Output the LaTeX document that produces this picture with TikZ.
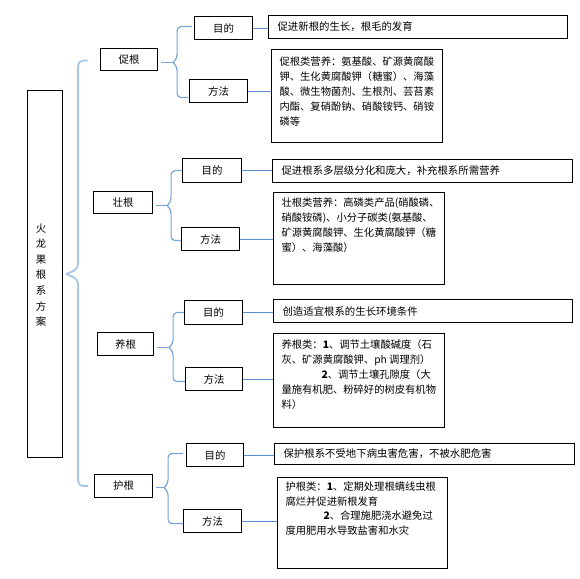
\documentclass[tikz,border=0pt]{standalone}
\usepackage{fontspec}
\setmainfont{Noto Sans CJK SC}
\usetikzlibrary{calc}
\definecolor{linkblue}{HTML}{5B8ED6}
\definecolor{subblue}{HTML}{78A5DA}
\definecolor{mainblue}{HTML}{A6C6EA}
\tikzset{
  box/.style={draw=black, line width=1.1pt, inner sep=0pt, anchor=north west,
    font=\fontsize{10.4}{15}\selectfont},
  lone/.style={box, align=left, inner xsep=9pt},
  para/.style={box, inner xsep=8pt, inner ysep=0pt},
  link/.style={draw=linkblue, line width=1pt},
  subbr/.style={draw=subblue, line width=1.2pt, rounded corners=4pt},
  mainbr/.style={draw=mainblue, line width=1.8pt, rounded corners=5pt},
}
\newcommand\subbrace[9]{%
  \coordinate (sc) at ($(#1.east)+(3,#4)$);
  \coordinate (sb) at ($(#1.east)+(#5,#4)$);
  \coordinate (st) at ($(#2.west)+(#6,#7)$);
  \coordinate (sbt) at ($(#3.west)+(#8,#9)$);
  \draw[subbr] (st) -- (sb |- st) -- ($(sb)+(0,-4)$) -- ($(sb)+(-4,0)$);
  \draw[subbr] (sbt) -- (sb |- sbt) -- ($(sb)+(0,4)$) -- ($(sb)+(-4,0)$);
  \draw[subbr] (sc) -- ($(sb)+(-4,0)$);
}
\newcommand\ptext[3]{\begin{minipage}[c][#1pt][t]{#2pt}\fontsize{10.3}{15}\selectfont\vspace*{#3pt}}
\begin{document}
\begin{tikzpicture}[x=1pt,y=-1pt]
\useasboundingbox (0,0) rectangle (580,578);

% root
\node[box, minimum width=35pt, minimum height=367pt] (root) at (27,90) {};
\node[align=center, inner sep=0pt, font=\fontsize{10.4}{15.6}\selectfont] (roott) at (41,275) {火\\龙\\果\\根\\系\\方\\案};

% level 1
\node[box, minimum width=57pt, minimum height=22pt] (cg) at (100,48) {促根};
\node[box, minimum width=59pt, minimum height=22pt] (zg) at (93,191) {壮根};
\node[box, minimum width=56pt, minimum height=23pt] (yg) at (97,332) {养根};
\node[box, minimum width=58pt, minimum height=23pt] (hg) at (94,474) {护根};

% level 2
\node[box, minimum width=58pt, minimum height=23pt] (m1) at (194,16) {目的};
\node[box, minimum width=58pt, minimum height=23pt] (f1) at (189,79) {方法};
\node[box, minimum width=59pt, minimum height=24pt] (m2) at (182,158) {目的};
\node[box, minimum width=58pt, minimum height=23pt] (f2) at (181,227) {方法};
\node[box, minimum width=58pt, minimum height=24pt] (m3) at (184,300) {目的};
\node[box, minimum width=57pt, minimum height=23pt] (f3) at (185,367) {方法};
\node[box, minimum width=57pt, minimum height=23pt] (m4) at (186,443) {目的};
\node[box, minimum width=58pt, minimum height=23pt] (f4) at (183,509) {方法};

% purpose texts
\node[lone, text width=281pt, minimum height=23pt] (t1) at (268,15) {促进新根的生长，根毛的发育};
\node[lone, text width=282pt, minimum height=23pt] (t2) at (272,159) {促进根系多层级分化和庞大，补充根系所需营养};
\node[lone, text width=281pt, minimum height=23pt] (t3) at (273,299) {创造适宜根系的生长环境条件};
\node[lone, text width=282pt, minimum height=21pt] (t4) at (274,443) {保护根系不受地下病虫害危害，不被水肥危害};

% method texts
\node[para] (p1) at (271,49) {\ptext{93}{155}{7}%
促根类营养：氨基酸、矿源黄腐酸\par
钾、生化黄腐酸钾（糖蜜）、海藻\par
酸、微生物菌剂、生根剂、芸苔素\par
内酯、复硝酚钠、硝酸铵钙、硝铵\par
磷等\end{minipage}};
\node[para] (p2) at (273,192) {\ptext{92}{155}{5}%
壮根类营养：高磷类产品(硝酸磷、\par
硝酸铵磷)、小分子碳类(氨基酸、\par
矿源黄腐酸钾、生化黄腐酸钾（糖\par
蜜）、海藻酸）\end{minipage}};
\node[para] (p3) at (273,333) {\ptext{94}{155}{6}%
养根类：\textbf{1}、调节土壤酸碱度（石\par
灰、矿源黄腐酸钾、ph 调理剂）\par
\hspace*{40pt}\textbf{2}、调节土壤孔隙度（大\par
量施有机肥、粉碎好的树皮有机物\par
料）\end{minipage}};
\node[para] (p4) at (277,477) {\ptext{91}{154}{4.5}%
\fontsize{10.3}{14.5}\selectfont
护根类：\textbf{1}、定期处理根螨线虫根\par
腐烂并促进新根发育\par
\hspace*{38pt}\textbf{2}、合理施肥浇水避免过\par
度用肥用水导致盐害和水灾\end{minipage}};

% main brace
\coordinate (mb) at ($(root.east)+(15,0)$);
\coordinate (mc) at ($(root.east)+(3,0)$);
\coordinate (mt) at ($(cg.west)+(-12,1)$);
\coordinate (mbo) at ($(hg.west)+(-6,0)$);
\draw[mainbr] (mt) -- (mb |- mt) -- ($(mb)+(0,-5)$) -- (mc);
\draw[mainbr] (mbo) -- (mb |- mbo) -- ($(mb)+(0,5)$) -- (mc);

% sub braces
\subbrace{cg}{m1}{f1}{3}{19}{-2}{-1.5}{-1}{6.5}
\subbrace{zg}{m2}{f2}{3}{18}{0}{0}{0}{1.5}
\subbrace{yg}{m3}{f3}{3.5}{19}{0}{0}{0}{2.5}
\subbrace{hg}{m4}{f4}{1.5}{15}{-3}{-1.5}{0}{2.5}

% links
\draw[link] (m1.east) -- (m1.east -| t1.west);
\draw[link] (f1.east) -- (f1.east -| p1.west);
\draw[link] (m2.east) -- (m2.east -| t2.west);
\draw[link] (f2.east) -- (f2.east -| p2.west);
\draw[link] (m3.east) -- (m3.east -| t3.west);
\draw[link] (f3.east) -- (f3.east -| p3.west);
\draw[link] (m4.east) -- (m4.east -| t4.west);
\draw[link] (f4.east) -- (f4.east -| p4.west);
\end{tikzpicture}
\end{document}
